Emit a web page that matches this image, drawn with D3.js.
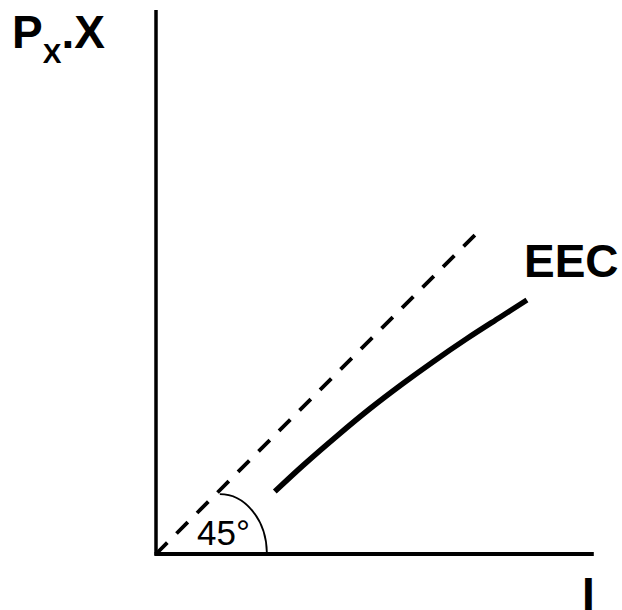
<!DOCTYPE html>
<html>
<head>
<meta charset="utf-8">
<script src="https://cdn.jsdelivr.net/npm/d3@7"></script>
<style>
  html, body { margin: 0; padding: 0; background: #fff; }
  text { font-family: "Liberation Sans", Arial, sans-serif; fill: #000; }
</style>
</head>
<body>
<div id="chart"></div>
<script>
// axis extents (data units)
const axisMaxX = 9.95;
const axisMaxY = 12.36;

// 45 degree reference line: income = expenditure
const diagonalEnd = 7.43;

// Engel expenditure curve (EEC)
const eecIncome = [2.70, 3.35, 4.11, 4.86, 5.62, 6.30, 7.06, 7.82, 8.43];
const eecSpend  = [1.42, 2.02, 2.68, 3.30, 3.88, 4.37, 4.89, 5.38, 5.77];

// angle marker (ellipse quarter) in data units
const angleCenter = 1.45, angleRx = 1.07, angleRy = 1.36;

const width = 622, height = 610;

const svg = d3.select('#chart').append('svg')
    .attr('width', width)
    .attr('height', height);

// 44px per unit on both axes
const x = d3.scaleLinear([0, 10], [156, 596]);
const y = d3.scaleLinear([0, 12.36], [554, 10]);

// axes
svg.append('line')
    .attr('x1', x(0)).attr('y1', y(0) + 1.5)
    .attr('x2', x(0)).attr('y2', y(axisMaxY))
    .attr('stroke', '#000').attr('stroke-width', 3.5);
svg.append('line')
    .attr('x1', x(0) - 1.5).attr('y1', y(0))
    .attr('x2', x(axisMaxX)).attr('y2', y(0))
    .attr('stroke', '#000').attr('stroke-width', 4);

// dashed 45 degree line
svg.append('line')
    .attr('x1', x(0)).attr('y1', y(0))
    .attr('x2', x(diagonalEnd)).attr('y2', y(diagonalEnd))
    .attr('stroke', '#000').attr('stroke-width', 3.8)
    .attr('stroke-dasharray', '16,13');

// EEC curve
const eecData = eecIncome.map((v, i) => [v, eecSpend[i]]);
const lineGen = d3.line()
    .x(d => x(d[0]))
    .y(d => y(d[1]))
    .curve(d3.curveCatmullRom);
svg.append('path')
    .datum(eecData)
    .attr('d', lineGen)
    .attr('fill', 'none')
    .attr('stroke', '#000')
    .attr('stroke-width', 5.5);

// angle arc
const cx = x(angleCenter), cy = y(0);
const rx = x(angleRx) - x(0), ry = y(0) - y(angleRy);
svg.append('path')
    .attr('d', `M${cx},${cy - ry} A${rx},${ry} 0 0 1 ${cx + rx},${cy - 1}`)
    .attr('fill', 'none')
    .attr('stroke', '#000')
    .attr('stroke-width', 1.8);

svg.append('text')
    .attr('x', 197).attr('y', 545)
    .style('font-size', '35px')
    .text('45°');

// labels
const yLabel = svg.append('text')
    .attr('x', 12).attr('y', 48)
    .style('font-size', '46px')
    .style('font-weight', 'bold');
yLabel.append('tspan').text('P');
yLabel.append('tspan').attr('dy', 15).style('font-size', '28px').text('X');
yLabel.append('tspan').attr('dy', -15).text('.X');

svg.append('text')
    .attr('x', 524).attr('y', 277)
    .style('font-size', '46px')
    .style('font-weight', 'bold')
    .text('EEC');

svg.append('text')
    .attr('x', 582).attr('y', 610)
    .style('font-size', '46px')
    .style('font-weight', 'bold')
    .text('I');
</script>
</body>
</html>
